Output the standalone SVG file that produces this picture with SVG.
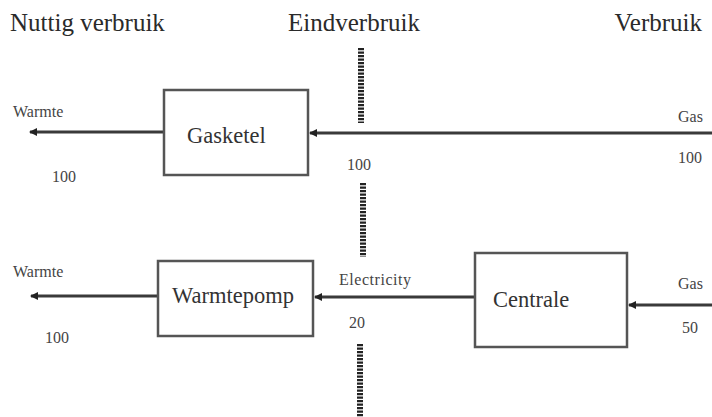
<svg xmlns="http://www.w3.org/2000/svg" width="712" height="417" viewBox="0 0 712 417">
<style>
text{font-family:"Liberation Serif","Times New Roman",serif}
.title{font-size:25px;fill:#2a2a2a}
.box{fill:#fff;stroke:#555;stroke-width:2.5}
.bt{font-size:22.5px;fill:#333}
.sm{font-size:16px;fill:#444}
.num{font-size:16px;fill:#444}
.flow{stroke:#3a3a3a;stroke-width:3;fill:none}
.dash{stroke:#222;stroke-width:6;stroke-dasharray:2.2 1.3;fill:none}
</style>
<defs>
<marker id="ah" markerWidth="8" markerHeight="8" refX="7" refY="4" orient="auto" markerUnits="userSpaceOnUse">
<path d="M0,0 L8,4 L0,8 Z" fill="#222"/>
</marker>
</defs>
<rect width="712" height="417" fill="#fff"/>
<g id="titles">
<text class="title" x="10" y="31">Nuttig verbruik</text>
<text class="title" x="288" y="31">Eindverbruik</text>
<text class="title" x="702" y="31" text-anchor="end">Verbruik</text>
</g>
<g id="divider">
<line class="dash" x1="361" y1="48" x2="361" y2="123"/>
<line class="dash" x1="363" y1="183" x2="363" y2="257"/>
<line class="dash" x1="360" y1="344" x2="360" y2="417"/>
</g>
<g id="connectors">
<line class="flow" x1="712" y1="133" x2="310" y2="133" marker-end="url(#ah)"/>
<line class="flow" x1="164" y1="132" x2="30" y2="132" marker-end="url(#ah)"/>
<line class="flow" x1="475" y1="297" x2="315" y2="297" marker-end="url(#ah)"/>
<line class="flow" x1="158" y1="296" x2="31" y2="296" marker-end="url(#ah)"/>
<line class="flow" x1="712" y1="305" x2="629" y2="305" marker-end="url(#ah)"/>
</g>
<g id="labels">
<text class="sm" x="13" y="117">Warmte</text>
<text class="num" x="52" y="182">100</text>
<text class="sm" x="678" y="122">Gas</text>
<text class="num" x="678" y="163">100</text>
<text class="num" x="347" y="170">100</text>
<text class="sm" x="339" y="285" textLength="72">Electricity</text>
<text class="num" x="349" y="328">20</text>
<text class="sm" x="13" y="277">Warmte</text>
<text class="num" x="45" y="343">100</text>
<text class="sm" x="678" y="289">Gas</text>
<text class="num" x="682" y="333">50</text>
</g>
<g id="gasketel">
<rect class="box" x="164" y="90" width="144" height="85"/>
<text class="bt" x="187" y="143">Gasketel</text>
</g>
<g id="warmtepomp">
<rect class="box" x="158" y="261" width="155" height="75"/>
<text class="bt" x="172" y="303">Warmtepomp</text>
</g>
<g id="centrale">
<rect class="box" x="475" y="253" width="152" height="94"/>
<text class="bt" x="493" y="307">Centrale</text>
</g>
</svg>
